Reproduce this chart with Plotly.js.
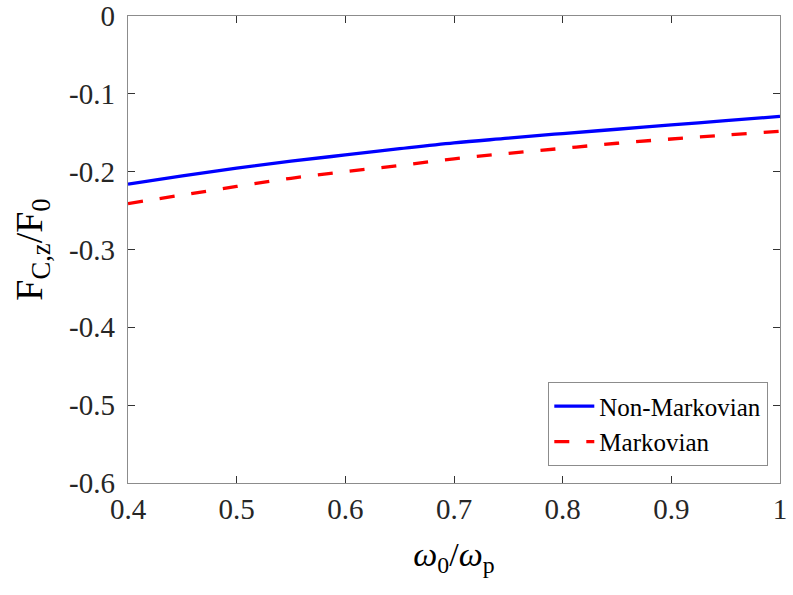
<!DOCTYPE html>
<html>
<head>
<meta charset="utf-8">
<script src="https://cdn.plot.ly/plotly-3.0.1.min.js"></script>
<style>html,body{margin:0;padding:0;background:#fff;}#chart{width:793px;height:595px;}</style>
</head>
<body>
<div id="chart"></div>
<script>
const omegaRatio = [0.40, 0.45, 0.50, 0.55, 0.60, 0.65, 0.70, 0.75, 0.80, 0.85, 0.90, 0.95, 1.00];
const nonMarkovian = [-0.216, -0.2055, -0.1955, -0.1865, -0.1785, -0.1705, -0.163, -0.157, -0.151, -0.1455, -0.140, -0.1345, -0.129];
const markovian = [-0.241, -0.2300, -0.2190, -0.2085, -0.2000, -0.1920, -0.1835, -0.1765, -0.1700, -0.1635, -0.1580, -0.1530, -0.148];
const xTickVals = [0.4, 0.5, 0.6, 0.7, 0.8, 0.9, 1.0];
const xTickText = ['0.4', '0.5', '0.6', '0.7', '0.8', '0.9', '1'];
const yTickVals = [0, -0.1, -0.2, -0.3, -0.4, -0.5, -0.6];
const yTickText = ['0', '-0.1', '-0.2', '-0.3', '-0.4', '-0.5', '-0.6'];

const serif = 'Liberation Serif';
const traces = [
  {x: omegaRatio, y: nonMarkovian, type: 'scatter', mode: 'lines', name: 'Non-Markovian',
   line: {color: '#0000ff', width: 3.3, shape: 'spline'}},
  {x: omegaRatio, y: markovian, type: 'scatter', mode: 'lines', name: 'Markovian',
   line: {color: '#ff0000', width: 3.3, dash: '15px,17px', shape: 'spline'}}
];
function axisCommon() {
  return {
    showgrid: false, zeroline: false, showline: true, linecolor: '#8c8c8c', linewidth: 1.3,
    mirror: 'ticks', ticks: 'inside', ticklen: 7, tickcolor: '#333', tickwidth: 1,
    tickmode: 'array', tickfont: {family: serif, size: 29, color: '#262626'}
  };
}
const layout = {
  width: 793, height: 595,
  font: {family: serif, size: 29, color: '#262626'},
  margin: {l: 128, r: 13, t: 16, b: 112},
  paper_bgcolor: '#fff', plot_bgcolor: '#fff',
  showlegend: true,
  xaxis: Object.assign(axisCommon(), {
    range: [0.4, 1], tickvals: xTickVals, ticktext: xTickText,
    title: {text: '<i>ω</i><sub>0</sub>/<i>ω</i><sub>p</sub>', font: {family: serif, size: 34, color: '#000'}, standoff: 18}
  }),
  yaxis: Object.assign(axisCommon(), {
    range: [-0.6, 0], tickvals: yTickVals, ticktext: yTickText, ticklabelstandoff: 6,
    title: {text: 'F<sub>C,z</sub>/F<sub>0</sub>', font: {family: serif, size: 38, color: '#000'}, standoff: 14}
  }),
  legend: {
    x: 0.9816, xanchor: 'right', y: 0.0364, yanchor: 'bottom',
    bordercolor: '#8c8c8c', borderwidth: 1.3, bgcolor: '#fff',
    font: {family: serif, size: 25, color: '#000'}, itemwidth: 40,
    tracegroupgap: 0
  }
};
Plotly.newPlot('chart', traces, layout, {staticPlot: true, displayModeBar: false});
</script>
</body>
</html>
